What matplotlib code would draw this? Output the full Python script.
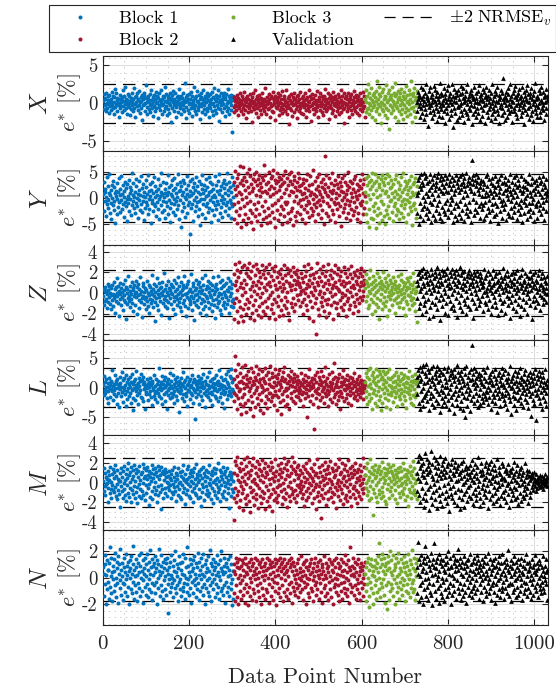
import numpy as np
import matplotlib
matplotlib.use('Agg')
import matplotlib.pyplot as plt
from matplotlib.lines import Line2D
from matplotlib.ticker import FixedLocator, MultipleLocator

plt.rcParams['font.family'] = 'cmr10'
plt.rcParams['mathtext.fontset'] = 'cm'
plt.rcParams['axes.unicode_minus'] = False
plt.rcParams['lines.scale_dashes'] = False

# ---------------- data (errors in tenths of a percent) ----------------
block_names = ['Block 1', 'Block 2', 'Block 3', 'Validation']
block_x0 = [1, 303, 608, 728]
block_x1 = [302, 607, 727, 1030]

panel_names = ['X', 'Y', 'Z', 'L', 'M', 'N']
panel_ylim = [6.3, 9.0, 4.6, 8.0, 4.8, 3.6]
panel_yticks = [[-5, 0, 5], [-5, 0, 5], [-4, -2, 0, 2, 4], [-5, 0, 5], [-4, -2, 0, 2, 4], [-2, 0, 2]]
panel_nrmse2 = [2.6, 4.6, 2.2, 3.3, 2.5, 1.75]

X_b1 = [3,-8,12,5,-2,7,-11,14,0,-6,9,-1,4,-13,11,2,-4,6,-9,1,
15,-3,-7,10,-15,8,2,-5,19,-1,13,-10,4,7,-3,0,-18,6,11,-2,
-6,5,1,-12,8,17,-4,3,-9,10,-1,22,-7,2,6,-14,4,-2,12,-5,
0,9,-16,3,7,-8,14,-3,1,-11,5,20,-6,8,-1,-19,10,2,-4,13,
-9,4,6,-2,16,-13,1,8,-7,3,-22,11,5,-3,9,-1,14,-10,0,7,
24,-5,2,-15,6,10,-8,1,-3,12,-12,4,18,-6,-1,8,-17,3,11,-4,
5,-10,15,0,-7,9,2,-20,7,-2,13,-5,4,-9,1,17,-14,6,-3,10,
-1,-11,8,3,-6,21,-4,12,-16,2,5,-8,9,0,-13,14,-2,7,-25,4,
11,-7,1,16,-3,6,-10,2,13,-5,-18,8,3,-1,10,-12,5,19,-6,0,
-4,9,-15,7,2,-8,14,-2,4,-11,27,1,-5,8,-20,11,3,-9,6,-1,
12,-13,0,5,-7,15,-3,10,-17,4,1,-6,22,-10,7,-2,9,-14,3,16,
-5,2,-9,11,-1,6,-21,8,13,-4,0,-12,5,18,-8,3,-2,10,-15,7,
1,-6,14,-10,4,9,-3,-19,12,2,-7,6,-1,15,-11,8,0,-16,20,-4,
5,-9,3,11,-13,7,-2,17,-6,1,-24,10,4,-8,13,-3,6,-12,2,9,
-1,14,-7,5,-17,8,12,-4,0,-10,19,3,-6,9,-14,2,7,-2,-9,11,
4,-38,6,10]
X_b2 = [-5,8,-12,3,-2,6,-9,1,11,-4,-16,7,0,-7,13,-3,4,-11,2,-1,
9,-14,5,-6,15,-2,-9,3,-20,7,1,-4,10,-12,6,-1,-7,12,-3,2,
-10,4,-25,8,0,-5,14,-8,3,-2,17,-13,6,-1,-6,9,-18,2,5,-4,
11,-9,0,7,-15,4,-3,13,-7,1,-11,6,-2,20,-5,3,-14,8,-1,-8,
2,12,-6,5,-19,0,9,-4,-10,7,-2,15,-12,3,-1,6,-22,10,-5,1,
-7,4,13,-3,8,-16,2,-9,11,0,-5,6,-13,16,-2,-8,5,-1,9,-11,
3,-4,18,-7,1,-14,7,-2,10,-28,4,-6,12,0,-9,2,-17,8,-3,5,
-12,14,-1,6,-8,3,-20,9,-4,1,11,-10,5,-2,15,-6,0,-13,7,-3,
2,-15,10,-5,4,-1,13,-9,6,-18,8,-2,3,-7,17,-11,1,-4,9,-24,
5,-3,12,-8,0,7,-14,2,-6,11,-1,-10,4,16,-5,3,-19,8,-2,6,
-9,13,-4,1,-12,9,-1,5,-16,10,-7,3,19,-3,-11,6,0,-8,14,-5,
2,-21,7,-2,11,-6,4,-13,8,1,-9,15,-3,5,-17,0,10,-4,6,-10,
3,-7,12,-1,-15,8,2,-5,17,-12,4,-2,9,-8,1,13,-6,-26,7,0,
-3,10,-11,5,-1,14,-7,2,-18,9,-4,6,-9,12,0,-14,4,-2,16,-6,
8,-10,1,-5,11,3,-13,7,-2,9,-16,4,0,-8,13,-3,6,-11,2,15,
-7,1,-4,10,-19]
X_b3 = [5,-12,18,2,-8,10,25,-6,13,-15,0,7,-3,20,-9,4,-18,11,1,-5,
14,-2,8,-22,16,3,-10,29,-7,6,-1,12,-14,22,-4,9,-27,2,15,-8,
0,19,-11,5,-3,10,-16,7,24,-6,1,-20,13,-9,4,17,-35,8,-2,11,
-13,6,21,-5,3,-9,14,-1,-18,9,27,-4,12,-7,2,-24,16,5,-11,8,
-2,13,-15,4,19,-8,0,10,-21,6,15,-3,7,-12,23,-6,1,-17,11,3,
-9,18,-1,5,-14,12,30,-7,2,-25,9,14,-5,20,-10,4,-19,8,-3,16]
X_b4 = [2,-10,15,6,-4,11,-18,8,0,-7,22,-13,5,-2,9,19,-21,3,13,-8,
-1,26,-15,7,10,-30,4,-5,16,0,-12,21,-3,8,-20,12,1,-9,6,23,
-14,3,17,-6,-1,10,-24,15,5,-11,2,-17,9,27,-4,13,-8,0,-19,11,
4,-2,20,-10,7,-27,12,1,-6,18,-13,6,24,-3,9,-21,2,14,-9,-16,
5,26,-1,10,-32,3,19,-7,8,-13,1,15,-22,11,-4,17,-5,6,-18,12,
-3,23,-10,0,14,-16,7,20,-8,2,-25,9,4,-12,16,-1,25,-14,6,-20,
10,-6,13,3,-9,18,-2,-28,11,5,-15,8,21,-4,1,-11,14,-19,7,2,
-7,16,-13,24,0,-22,9,4,-5,12,-17,6,19,-9,3,-3,15,-26,8,11,
-1,21,-12,5,-18,10,2,-8,17,-4,7,-23,13,0,26,-15,4,-6,9,-11,
16,-2,-20,12,3,-9,22,-14,1,6,-27,11,8,-5,18,-1,-16,14,-7,5,
33,-12,2,10,-22,7,-3,15,-18,4,12,-8,20,-1,-13,6,25,-10,9,-4,
3,-25,14,1,-6,17,-11,8,23,-2,-15,5,11,-20,0,13,-8,19,-3,7,
-17,10,2,-12,22,-5,4,-28,15,-1,9,-9,18,6,-14,3,24,-7,12,-21,
1,14,-4,8,-16,20,-10,5,-1,11,-24,16,3,-8,27,-13,6,-2,10,-18,
7,-5,17,0,-12,13,-19,4,21,-6,2,-9,15,-3,8,-22,11,1,-14,19,
-6,4,10]

Y_b1 = [8,-25,30,12,-5,18,-35,2,40,-12,22,-3,-18,10,45,-28,6,-9,15,-40,
25,0,-14,33,-6,20,-22,9,-48,14,3,-31,28,-1,11,-17,38,-8,5,-26,
17,-4,42,-20,7,-11,24,-36,1,13,-7,30,-15,19,-2,-44,26,4,-10,35,
-24,10,-1,21,-33,16,47,-13,6,-5,29,-19,2,-29,12,37,-9,23,-16,0,
8,-38,32,-3,15,-23,5,41,-12,19,-27,3,-6,26,-42,11,1,-18,34,-8,
20,-14,7,-30,44,-2,13,-21,27,4,-47,16,-9,30,-4,9,-25,39,-11,2,
-16,23,-34,14,6,-7,36,-20,18,-1,-39,25,3,-13,11,48,-26,8,-5,31,
-22,1,17,-37,10,-8,28,-15,5,43,-30,12,-3,21,-18,-45,24,7,-10,34,
4,-27,15,-2,38,-12,19,-33,9,-6,26,-20,1,46,-14,13,-40,30,-4,16,
-55,22,6,-24,35,-9,11,-17,28,2,-36,18,-1,42,-28,8,-13,25,-7,3,
32,-68,14,-19,5,37,-11,20,-43,10,-3,29,-25,16,1,-16,40,-8,23,-35,
12,-5,33,-21,7,-52,26,-2,17,-30,44,-12,9,-1,24,-38,15,3,-15,36,
-9,21,-27,6,39,-18,11,-4,30,-46,13,2,-23,27,-8,18,-33,5,41,-14,
1,-20,25,-6,14,-41,32,-11,8,45,-29,16,-3,22,-17,4,-36,28,-10,19,
-2,35,-24,10,-13,27,-7,48,-32,15,6,-19,30,-4,21,-37,11,-9,40,-15,
2,24]
Y_b2 = [-12,30,-40,18,52,-25,5,38,-48,22,-8,45,-33,12,60,-18,28,-55,8,35,
-2,-42,25,58,-15,40,-30,15,2,-50,33,-10,48,20,-38,10,55,-22,42,-5,
-46,27,13,-28,37,-58,19,46,-12,32,-35,6,50,-20,24,-44,36,-8,16,43,
-30,4,29,-52,21,39,-16,11,-40,34,62,-24,14,-6,44,-36,26,-48,9,31,
-18,50,-32,17,3,-45,38,23,-14,41,-26,7,53,-38,19,-10,35,-55,28,12,
-22,47,-4,32,-42,15,40,-30,22,-16,36,1,-50,26,44,-20,10,-35,30,-7,
52,-12,18,-46,38,-8,24,-28,45,6,-40,33,14,-24,49,-18,27,-52,11,35,
-6,42,-34,20,4,-44,31,16,-26,48,-10,23,38,-3,13,-31,25,-15,8,-39,
28,-1,37,-21,9,-47,19,2,-13,34,-27,45,-5,15,-36,24,-9,6,41,-19,
12,-33,27,-2,53,-25,7,-11,32,-43,18,3,-17,39,-8,22,-30,14,-4,46,
-14,8,30,-38,21,1,-23,36,-6,17,-49,26,11,80,-28,43,-10,5,-34,20,
3,-16,38,-41,13,-2,29,-22,9,47,-31,16,-7,24,-12,35,-45,10,0,27,
-20,42,-9,19,-35,6,31,-15,23,-53,14,-3,38,-26,11,2,-18,44,-11,30,
7,-37,25,-4,16,-29,50,-13,20,-6,33,-42,9,-21,28,1,-32,18,-8,36,
-24,12,41,-17,4,-39,27,-1,15,-28,22,6,-46,34,-10,19,-14,45,-5,26,
-30,9,37,-19,3]
Y_b3 = [12,-30,38,-8,25,-45,5,42,-20,30,-55,18,-2,35,-38,22,48,-15,8,-40,
28,-25,45,-10,15,-57,33,2,-32,40,-18,20,-48,27,6,-28,36,-5,44,-42,
16,-12,31,-35,24,10,-50,38,-22,13,46,-30,3,29,-15,41,-38,19,-6,34,
-3,21,-27,9,-44,26,1,-16,37,-9,14,-33,43,-20,7,-1,30,-24,17,-39,
4,25,-13,39,-28,11,-6,47,-36,18,-2,-19,33,-11,22,-46,8,28,-4,15,
-31,35,-7,20,-17,2,42,-25,12,-52,26,5,-14,31,-9,38,-21,10,-37,23]
Y_b4 = [5,-28,35,12,-50,40,-10,22,-35,45,18,-20,30,2,-42,25,48,-15,38,-5,
10,-30,42,-18,28,3,-38,33,15,-25,46,-8,20,-45,36,8,-12,27,-33,44,
-2,16,-40,31,23,-22,39,-14,6,47,-28,19,-6,34,-37,13,41,-17,26,-44,
9,37,-24,21,-10,43,-31,14,29,-4,38,-20,11,-36,24,46,-12,33,-27,1,
18,-3,40,-46,25,7,-19,35,-34,15,44,-9,28,-41,20,36,-15,12,-30,42,
-6,26,-38,17,45,-22,31,1,-43,22,38,-11,14,-29,47,-18,24,6,-35,33,
-8,40,19,-24,29,-45,13,37,72,27,-2,43,-32,10,34,-20,46,-7,23,30,
-26,15,39,-16,8,-37,28,21,-10,35,4,-21,32,-13,18,-40,27,3,-7,41,
11,-33,22,45,-18,6,-27,36,-4,16,-44,29,9,-12,38,-23,2,25,-35,14,
42,-9,20,-30,7,33,-16,24,-48,12,1,37,-25,19,-5,44,-14,28,-38,10,
-3,31,-21,15,40,-11,26,-42,5,18,-28,35,-1,22,-34,13,46,-19,8,-6,
30,-36,17,2,-15,39,-26,11,27,-8,43,-39,20,4,-22,34,-12,25,-31,16,
-4,41,-17,9,-45,23,14,-7,36,-29,21,0,-13,32,-40,18,6,-24,28,-10,
45,-20,12,-34,26,3,-9,38,-27,15,-2,30,-43,19,7,-16,35,-11,24,-37,
13,-5,40,-22,29,-14,8,33,-30,17,1,-19,42,-8,26,-41,10,21,-3,36,
-25,14,5]

Z_b1 = [-3,4,-12,2,-8,6,-6,1,-15,-1,9,-9,3,-4,7,-11,0,-16,5,-2,
8,-7,-1,-13,11,-2,-5,4,-19,6,-8,14,-3,0,-10,7,-22,2,-6,10,
-1,-12,5,-4,1,-17,9,-7,3,-2,13,-9,-25,6,0,-11,4,-5,16,-3,
-8,2,-14,7,-1,-6,11,-10,3,-18,5,-3,8,0,-12,12,-4,1,-20,6,
-2,9,-7,-15,4,-1,15,-9,2,-5,-23,7,-3,10,-11,1,-6,5,-16,3,
-4,12,-8,0,-13,8,-2,-19,6,-6,2,-10,17,-1,-7,4,-14,9,-3,-27,
1,-9,7,-5,14,-12,3,-1,-17,10,-4,5,-8,0,-21,6,-2,11,-10,2,
-6,19,-3,-13,4,-7,8,1,-15,-2,12,-9,5,-24,3,-5,9,-11,0,7,
-1,-16,6,-4,13,-8,2,-20,10,-3,-6,4,-12,15,-1,-9,7,-14,1,-5,
11,-18,3,-2,8,-10,5,-7,16,-13,-1,6,-22,9,-4,0,-15,12,-6,2,
-8,4,-11,18,-3,1,-17,7,-5,10,-9,-26,3,-2,13,-12,5,-7,-1,9,
-14,2,-4,11,-19,6,0,-10,14,-6,3,-16,8,-1,-8,17,-13,4,-3,-21,
7,-5,12,-9,1,-15,5,-2,10,-11,-4,8,-18,3,-7,15,-1,-12,6,-24,
2,-6,9,-14,4,-3,16,-10,0,-8,11,-17,5,-1,-20,13,-5,7,-12,1,
-9,8,-2,-15,10,-4,3,-11,14,-7,2,-19,6,-3,12,-13,0,5,-8,9,
-6,-14]
Z_b2 = [-10,18,-25,8,28,-5,12,-18,22,3,-28,15,-8,30,-14,6,20,-22,10,-2,
25,-16,5,-27,13,27,-11,1,19,-20,9,24,-6,-15,16,29,-9,4,-24,14,
-3,21,-19,7,11,-12,26,-26,2,17,-7,28,-17,8,-1,23,-21,12,5,-13,
20,-4,15,-23,10,27,-10,0,18,-18,6,22,-8,-20,14,3,25,-14,9,-5,
19,-24,11,28,-2,7,-16,16,-11,24,1,-19,13,-6,21,-25,8,26,-9,4,
15,4,-13,20,-3,11,-22,18,6,-17,23,-7,2,14,-21,9,27,-12,5,-4,
17,-15,12,24,-8,1,-19,19,10,-26,7,22,-10,3,16,-14,8,25,-5,13,
-18,20,4,-11,9,18,-2,12,22,-7,15,10,8,-1,6,-13,19,2,-9,14,
3,-20,11,26,-6,16,0,-12,21,5,-17,9,28,-3,13,-24,7,17,-8,1,
24,-14,10,-2,18,-27,6,14,-10,3,-40,20,-5,11,29,-16,8,-1,15,-21,
2,23,-9,12,-4,19,-13,7,26,-18,0,16,-7,10,-23,21,4,-11,13,28,
-6,9,-19,17,1,-12,22,5,-3,14,-25,8,20,-9,11,-1,27,-15,6,18,
-10,4,24,-20,13,2,-7,16,-14,9,21,-4,0,12,-17,25,7,-11,19,-2,
10,-22,15,3,-8,23,-5,11,-16,18,1,-12,26,6,-3,14,-19,8,20,-9,
5,17,-13,12,-1,22,-6,9,-18,15,3,-10,19,7,-4,24,11,-7,16,2,
8,-3,13,21,10]
Z_b3 = [5,-8,12,18,-3,10,-15,7,2,-12,14,0,22,-6,9,-20,4,11,-9,16,
-2,6,-18,13,1,-11,8,19,-5,3,-14,10,-25,15,-7,6,-1,12,-16,4,
9,-10,20,-4,7,-13,2,14,-8,11,-22,5,17,-3,8,-17,1,13,-6,3,
10,-2,6,-12,15,0,-7,9,4,-19,12,-5,7,1,-10,16,-3,5,-14,8,
2,-9,13,-1,18,-6,4,-15,11,0,-4,7,-21,10,3,-8,14,-11,6,-2,
12,-16,5,9,-3,15,-7,1,-12,8,19,-5,4,-10,11,0,-18,6,2,-28]
Z_b4 = [12,-5,18,8,-15,20,2,14,-10,22,5,-20,16,10,-3,24,-12,7,19,-8,
15,1,-18,11,21,-6,9,-24,17,4,13,-14,23,0,10,-9,18,6,-22,14,
3,20,-11,8,16,-4,25,-16,12,2,-7,19,7,-26,15,11,-2,22,-13,9,
17,-6,4,21,-19,13,0,18,-10,8,24,-3,14,-21,10,5,20,-8,16,-15,
6,23,-1,12,-12,19,3,-17,15,9,-5,22,7,-23,18,1,13,-9,11,25,
-14,6,17,-2,20,-18,10,4,14,-7,21,-11,8,2,-20,16,12,-4,19,-13,
5,22,9,-16,15,0,18,-6,11,-24,14,7,20,-10,3,17,-1,12,-15,21,
8,-5,16,4,-12,13,19,-8,10,15,6,-3,11,-18,7,23,1,-9,14,2,
-11,17,5,-2,21,-16,9,12,-7,3,18,-20,6,14,0,-13,22,8,-4,10,
16,-9,2,19,-14,11,4,-21,13,7,-1,20,-6,9,15,-17,5,12,-10,24,
1,-8,14,6,-19,17,3,10,-3,21,-12,8,16,-5,2,-24,13,18,-9,7,
11,-2,20,-15,4,9,14,-7,19,0,-18,12,6,22,-11,3,15,-4,10,-22,
17,5,-13,8,23,-6,1,13,-16,11,4,19,-9,7,-1,16,-20,10,2,14,
-5,21,8,-12,15,3,-25,12,6,18,-8,9,-3,20,-14,5,13,-7,11,1,
17,-10,4,22,-2,8,-17,14,9,-4,19,-11,6,3,-6,15,0,12,-9,10,
5,-1,16]

L_b1 = [5,-12,20,-3,10,-8,14,2,-18,1,-6,8,-25,16,-1,4,-15,9,-2,12,
-6,30,-20,3,-10,7,-4,22,0,-14,11,-28,6,15,-9,-1,4,-32,19,-2,
8,-14,2,26,-7,13,-24,1,-3,17,-11,5,-30,21,-5,9,-19,14,-1,6,
-13,2,-8,18,-26,10,-3,23,-17,7,-38,12,-1,15,-21,4,-6,29,-12,0,
8,-27,16,-9,3,-4,11,24,-15,-18,13,6,-23,19,-2,9,-35,1,-10,5,
-7,14,-1,-20,7,2,-11,10,-5,17,-16,4,-29,8,12,-3,0,-13,22,-8,
3,-19,15,-6,6,-24,11,-2,-9,33,-14,5,1,-17,9,-4,20,-28,7,-1,
-11,13,2,-22,18,-7,4,-36,10,-3,15,-12,6,-1,25,-18,3,-8,11,-15,
0,21,-10,7,-5,-26,14,2,-13,9,-2,18,-20,5,-6,12,-40,8,1,-9,
16,-4,-17,6,27,-11,3,-23,10,-1,13,-8,-14,4,19,-30,7,-3,11,-6,
2,-19,14,-9,5,22,-12,0,-25,9,-4,15,-7,-53,6,11,-16,3,-2,20,
-10,8,-27,13,1,-6,17,-14,4,-21,10,-1,24,-8,2,-33,12,-5,7,-12,
18,-3,-16,5,-9,26,0,-20,11,-7,3,14,-11,-29,8,2,-4,16,-13,6,
-1,21,-18,9,-6,4,-23,12,-2,30,-15,7,-9,1,19,-26,5,-3,13,-10,
3,-34,15,-7,24,-1,10,-19,6,28,-12,2,-5,20,-8,17,-14,32,-2,9,
-6,14]
L_b2 = [-8,15,-22,30,53,-12,5,-35,20,2,-18,40,-5,10,-28,25,-2,-45,12,35,
-15,8,-30,18,0,-10,38,-25,6,22,-40,3,14,-20,28,-6,9,-36,16,-1,
33,-14,4,-24,26,11,-48,7,-9,19,-32,36,-3,13,-17,1,24,-27,10,31,
-11,-38,15,5,-21,29,-7,2,-42,17,-4,12,-26,34,8,-13,21,-34,-2,27,
-19,6,-8,14,37,-8,3,-23,18,-15,25,1,-12,10,-29,20,-6,32,-12,4,
-38,16,9,-16,23,-3,30,-24,7,13,-44,2,19,-10,26,-20,11,-5,35,-31,
15,0,-4,-14,8,-27,21,-1,12,-36,18,5,-9,28,-18,3,14,-22,9,24,
-6,17,-25,1,11,-13,20,-4,7,-16,13,2,-8,-3,10,-20,6,25,-11,4,
-7,15,-30,9,1,-18,22,-2,12,-9,-50,5,19,-14,8,-4,31,-23,3,11,
-1,16,-12,7,-27,2,-70,14,-6,21,-17,10,-3,26,-8,0,-33,18,-10,6,
13,-21,4,29,-5,-15,9,-2,20,-26,1,12,-9,35,-13,7,-4,17,-31,3,
-11,23,-6,10,-19,5,-1,27,-24,8,14,-3,-16,42,2,-10,19,-28,6,-7,
11,-20,16,1,-13,24,-5,-35,9,3,-8,18,-15,7,30,-2,-22,12,-4,15,
-17,5,21,-10,-1,13,-25,6,2,-12,19,-6,8,-29,16,0,-9,11,-18,4,
25,-14,3,-5,10,-21,14,-2,7,-11,20,-3,-16,9,1,-8,13,-4,6,-19,
2,-7,12,-1,5]
L_b3 = [10,-15,25,-5,18,-28,3,30,-10,14,-22,7,33,-18,0,22,-35,12,-8,27,
-3,16,-25,8,31,-12,4,-30,20,-6,11,-20,28,1,-14,24,-38,15,-2,19,
-26,6,29,-9,13,-17,2,23,-33,9,-4,26,-21,17,-11,5,32,-36,14,-7,
3,-12,18,-1,-24,9,21,-6,12,-16,1,27,-9,7,-30,15,-3,20,-13,4,
-19,11,-2,25,-8,14,-27,6,17,-5,-14,22,2,-21,10,-34,19,-7,8,-1,
16,-10,28,-4,5,-18,12,-25,3,20,-12,9,-29,13,-2,24,-15,6,-8,11]
L_b4 = [18,-10,30,5,-25,22,-35,12,35,-5,15,-20,28,0,-30,38,-15,8,25,-12,
20,-8,40,10,-22,32,-3,14,-38,26,3,-17,34,-9,19,-28,11,36,-14,6,
-33,23,-1,29,-20,16,-6,37,-26,9,21,-11,31,-40,13,-4,27,-18,4,-30,
24,-7,33,-24,17,2,-13,10,-31,28,2,-21,35,-8,15,-36,22,-2,30,-16,
7,-27,25,-10,18,-42,12,32,-5,20,-19,3,38,-29,14,-12,26,-3,9,-34,
21,1,-23,29,-9,16,-37,11,33,-15,5,-50,24,-6,36,-18,8,-30,19,2,
-11,27,-39,13,-4,31,-20,15,72,23,6,-14,34,-26,10,-1,17,-8,28,-21,
4,-33,20,-12,25,-2,14,-27,9,22,-17,6,31,-9,-24,16,3,-13,26,-5,
11,-19,35,-7,1,-28,18,10,-15,24,-3,-35,13,7,-22,29,-10,5,-16,20,
-4,32,-25,8,15,-11,-40,21,2,-18,27,-6,12,-30,19,4,-9,34,-14,6,
23,-20,1,-12,30,-27,14,-3,9,-36,25,-8,17,-16,5,37,-23,11,-1,-44,
16,2,-13,22,-29,8,-5,28,-18,12,-38,3,20,-7,26,-21,10,-2,33,-15,
6,-26,18,-9,14,1,-32,24,-4,11,-19,30,-11,7,-24,15,-1,21,-34,9,
-6,27,-14,3,-47,19,12,-8,25,-20,4,-28,17,-3,31,-12,8,-55,22,-10,
14,-2,29,-17,5,-25,20,-7,11,-35,26,1,-15,18,-4,9,-22,32,-9,6,
-30,13,2]

M_b1 = [2,-8,15,-3,10,-12,6,-1,4,0,-5,12,-20,8,3,-10,16,-6,1,-15,
9,-2,14,-7,5,-9,11,-4,18,-13,7,-1,-17,13,4,-7,2,-11,2,-25,
10,-3,15,-8,6,-16,12,0,-6,17,-12,3,9,-19,14,-2,5,-10,20,-14,
8,-5,11,1,-20,16,-7,4,13,-11,7,-3,18,-16,2,10,-9,14,-4,-21,
6,12,-1,-13,17,-6,3,9,-15,11,-8,19,0,-12,5,15,-18,7,-2,13,
-10,4,16,-5,8,-23,12,-1,6,-14,10,2,-8,18,-17,5,14,-4,9,-11,
1,15,-7,11,-20,7,-3,17,-12,4,13,-9,8,-27,16,-2,10,-6,12,-15,
3,9,-10,14,-5,6,11,-13,1,7,-4,0,-7,12,-2,5,-16,9,3,-9,
13,-1,-11,6,-4,16,-8,2,10,-19,4,-3,8,-12,15,0,-6,11,-14,1,
7,-17,12,-2,5,-9,18,-5,3,-22,9,1,-11,14,-7,4,-1,17,-13,6,
-3,10,-15,2,13,-8,7,-20,11,0,-5,15,-10,4,-2,19,-12,6,9,-16,
1,12,-6,3,-14,8,-24,14,-1,5,-9,16,-4,10,-18,2,7,-11,13,-3,
-7,6,11,-13,0,18,-10,4,-2,9,-17,12,-5,8,1,-21,15,-8,3,-12,
10,-1,14,-15,5,-4,20,-9,2,-6,13,-19,7,-2,11,-11,4,16,-14,1,
-8,9,-3,12,-17,6,0,15,-10,3,-5,8,-26,11,-1,7,-13,4,10,-6,
2,-9]
M_b2 = [-15,-38,10,22,-5,18,-20,8,-12,26,-8,3,-25,15,1,-18,12,-3,20,-10,
6,-28,14,-6,24,2,-15,9,-22,17,-1,26,-12,5,11,-19,21,-4,8,-30,
13,-9,2,18,-14,25,-7,4,-23,16,0,-11,10,-17,22,-2,7,-26,14,-5,
19,-13,3,-21,12,8,-8,23,-16,1,-10,15,-27,6,20,-3,11,-19,9,-7,
17,-14,4,-24,13,-1,21,-11,5,-29,16,-6,10,2,-18,24,-9,7,-15,12,
-4,-20,18,3,-12,9,-2,14,-2,20,-8,6,-22,11,0,-14,25,-6,15,-17,
4,19,-10,8,-25,13,-3,22,-13,7,1,-19,17,-5,10,-11,26,-8,14,-16,
3,21,-7,12,-20,9,-2,16,-12,5,18,-4,8,-1,-9,13,-6,2,-15,10,
-3,17,-11,6,-24,14,1,-8,20,-18,4,11,-5,-14,9,0,23,-10,7,-2,
15,-21,5,12,-7,2,-16,19,-4,8,-27,10,-1,24,-13,6,-9,16,-3,-19,
11,1,-12,-36,7,18,-6,3,-15,13,-2,21,-10,5,-23,9,0,14,-8,17,
-17,4,10,-5,22,-14,2,-9,15,-1,-20,12,6,-11,19,-4,8,-26,13,0,
-7,16,-13,3,24,-3,9,-18,11,-6,1,20,-10,5,-22,14,-2,7,-15,18,
2,-12,12,-4,-19,8,23,-8,4,-14,15,-1,10,-24,6,17,-5,-11,13,-3,
9,-16,20,-7,1,11,-21,5,14,-9,3,-13,18,-2,7,-17,12,0,-6,25,
-10,4,16,-5,8]
M_b3 = [8,-5,15,0,-12,20,3,-8,12,-18,6,24,-3,10,-15,2,16,-33,9,-6,
13,-10,5,18,-2,7,-14,11,-20,14,1,-7,17,-11,4,9,-16,12,-4,21,
-9,6,-13,15,0,-19,10,3,-22,8,14,-6,19,-1,11,-15,5,16,-8,12,
2,-4,10,-12,7,18,-1,4,-17,13,-7,1,9,-21,6,15,-3,11,-10,3,
16,-14,5,-2,12,-8,0,20,-11,7,-5,14,-18,2,9,-1,13,-13,6,-24,
4,11,-6,17,-9,1,8,-15,12,-3,22,-10,5,-7,15,0,-12,9,3,-17]
M_b4 = [10,-8,22,5,28,-12,15,2,-20,18,25,-5,8,-15,20,12,-25,6,30,-10,
14,1,-18,24,9,-6,17,-28,11,21,-3,13,32,-14,7,-22,19,4,-9,26,
-1,16,-17,10,23,-7,3,-26,15,20,-12,8,-4,27,-19,12,5,-10,18,-24,
9,22,-2,14,-16,6,25,-8,11,-21,17,0,-13,20,7,-29,13,-5,19,-11,
4,24,-15,10,-3,16,-20,8,21,-9,2,12,-23,15,-6,18,3,-14,9,-27,
11,20,-7,5,-17,13,-1,22,-11,7,-25,14,1,17,-8,10,-19,4,15,-4,
9,-13,6,18,-2,11,-16,3,23,-10,14,-22,7,1,-6,19,-12,10,-18,5,
16,-3,26,-9,2,-15,12,-24,8,20,-5,13,-1,-20,9,4,-11,17,-7,21,
-14,6,11,-2,-26,15,3,-8,19,-17,10,0,22,-12,5,14,-21,7,-4,18,
2,-10,13,-19,8,24,-6,1,-15,16,-3,11,-23,9,4,-13,20,-1,6,-9,
17,-16,5,12,-7,3,-20,14,-2,10,-11,19,0,-25,8,13,-5,-18,11,2,
-8,15,6,-12,21,-4,9,-17,3,12,-6,18,-14,1,7,-22,10,-2,14,-10,
4,-19,16,-1,8,-13,11,-7,2,-16,20,-3,6,-11,13,-5,9,-21,0,7,
12,-9,3,-14,8,5,-4,10,-1,6,-7,2,11,-3,4,-8,1,9,-5,3,
0,6,-2,5,-4,2,8,-1,4,-3,7,1,-6,3,0,5,-2,9,-1,4,
2,-3,6]

N_b1 = [8,-14,3,17,-5,10,-20,2,13,-9,6,-3,6,-16,11,23,-7,1,-12,15,
4,-18,9,-1,14,-10,5,19,-6,0,-15,12,7,-4,16,-19,3,10,-8,22,
-2,6,-13,11,1,-17,-4,8,15,-5,4,-11,18,-1,9,-14,2,12,-7,5,
-20,13,0,7,-9,16,3,-12,10,-3,24,-16,6,1,-6,14,-11,8,2,-18,
11,-4,17,-8,4,-14,9,0,19,-10,5,-2,13,-19,7,3,-7,15,-13,1,
10,-5,18,-15,6,-1,12,-9,3,21,-11,8,-4,14,-17,2,9,-6,11,-12,
4,16,-3,7,-20,13,0,10,-8,5,22,-14,2,17,-6,9,-10,4,12,-16,
7,-2,14,-9,1,11,-13,6,15,-5,-27,3,-1,8,-11,12,2,-7,17,-4,
0,9,-15,5,-2,13,-8,20,-12,4,1,-6,10,-18,7,16,-3,-9,11,-1,
6,-14,3,12,-7,18,-10,2,-4,15,-16,8,0,-11,23,-5,9,-1,-13,4,
14,-8,1,-19,10,5,-3,13,-12,7,-2,16,-6,3,-15,11,0,8,-9,19,
-4,2,-17,12,6,-10,15,-1,-7,9,3,-13,18,-5,1,-20,10,4,-8,13,
-2,7,-11,16,0,-14,5,21,-6,11,-18,3,9,-3,14,-9,-1,6,-15,8,
12,-5,2,-12,17,-7,4,10,-16,1,13,-2,-10,7,20,-8,5,-13,3,15,
-6,9,-19,4,11,-3,8,-11,1,14,-7,6,-14,2,16,-4,-9,10,-1,-21,
5,-16]
N_b2 = [5,-12,10,-18,3,15,-6,8,-15,12,0,-20,7,14,-4,2,-10,9,-16,13,
-2,6,-13,11,1,-8,15,-19,4,-5,10,-11,3,-21,8,12,-7,0,-14,6,
14,-3,9,-17,2,11,-9,5,-12,15,-1,-18,7,3,-6,13,-10,0,10,-15,
4,-4,12,-20,8,1,-8,14,-13,5,9,-2,-16,11,2,-9,6,15,-11,0,
7,-19,13,-5,3,10,-14,8,-1,12,-7,4,-17,9,-3,14,-10,1,11,-21,
6,-4,13,-12,2,8,-8,15,-15,5,0,10,-6,12,-18,7,3,-11,14,-2,
9,-14,4,11,-9,6,1,-16,13,-5,8,-12,10,-3,15,-19,5,12,-7,2,
-10,9,-1,-13,6,-4,11,-8,3,-15,14,0,-6,4,-11,7,-2,16,-9,1,
10,-17,5,-3,12,-7,2,-20,8,13,-5,0,-12,6,9,-1,-15,11,3,-8,
14,-10,4,-2,7,-18,11,1,-6,15,-13,5,-3,9,-9,2,12,-16,0,6,
-4,13,-11,3,8,-19,10,-1,5,-8,16,-14,2,-6,11,0,-12,7,4,-17,
9,-3,14,-9,1,12,-15,6,-2,10,-20,4,-7,13,-5,8,0,-11,15,-1,
3,-13,11,-6,7,-18,2,9,-10,14,-4,5,-16,12,1,-8,6,-3,17,-12,
0,10,-9,4,-14,13,-2,8,-19,6,-5,23,2,-11,9,-7,3,15,-13,1,
7,-6,12,-16,4,-1,10,-9,14,-4,2,-12,8,-17,5,11,-3,-8,6,0,
-14,9,3,-5,12]
N_b3 = [3,-10,8,-18,12,-5,15,0,-14,6,-22,10,-3,14,-8,2,9,-12,5,-20,
9,1,-6,13,-16,7,-2,11,-11,4,16,-9,0,26,-15,8,-4,14,18,-7,
10,-1,5,-13,15,3,-19,9,-6,11,-24,6,16,-3,12,-17,7,20,-10,4,
-5,13,-8,2,17,-14,6,-1,10,-20,8,15,-4,1,-11,12,-7,19,3,-16,
7,-3,14,-9,5,0,-13,11,-6,16,-2,8,-18,4,12,-10,2,-5,9,-12,
18,-1,6,-15,13,3,-8,10,-4,21,-11,7,-2,15,-9,5,-17,11,1,14]
N_b4 = [8,-12,27,3,-18,14,-6,10,1,-15,17,-3,5,-20,12,7,-9,15,-1,24,
-14,4,11,-7,16,0,-17,9,-4,13,-11,6,19,-13,2,10,-21,14,-5,8,
26,-10,3,12,-16,7,-2,15,-8,1,18,-19,5,11,-6,14,-12,0,9,-15,
13,-3,6,-18,10,4,-9,16,-1,12,-14,7,20,-7,3,-11,15,-4,9,-20,
8,2,-13,17,-6,11,0,-10,14,5,-16,9,-2,13,-8,22,6,-12,10,-4,
15,-17,3,8,-9,12,1,-14,16,-5,7,-11,11,4,-19,13,-1,9,-7,14,
-13,2,18,-3,6,-10,10,0,-15,12,5,-8,15,-6,3,-12,11,7,-2,17,
-9,4,13,-16,8,1,-5,10,-11,6,14,-2,9,-18,3,12,-7,0,16,-10,
5,-14,11,2,-4,19,-12,7,-1,14,-8,3,-17,10,6,-6,13,-3,-11,8,
1,-19,15,-5,9,4,-13,12,-2,7,-9,16,0,-15,11,3,-7,18,-10,5,
-3,12,-16,8,2,-8,14,-1,10,-12,6,21,-6,4,-14,9,-4,13,1,-18,
7,-5,11,-11,3,16,-9,5,-2,12,-15,8,0,-7,14,-13,6,2,-10,10,
-1,15,-6,4,-17,9,3,-12,13,-3,7,-9,18,-4,1,-14,11,5,-8,6,
12,-2,-11,9,2,-16,14,-5,8,-1,-13,10,4,-7,17,-10,3,6,-4,11,
-15,7,0,13,-6,-9,10,2,-12,8,-3,5,16,-8,1,-11,9,-2,14,-5,
4,-17,6]

panel_data = [
    [X_b1, X_b2, X_b3, X_b4],
    [Y_b1, Y_b2, Y_b3, Y_b4],
    [Z_b1, Z_b2, Z_b3, Z_b4],
    [L_b1, L_b2, L_b3, L_b4],
    [M_b1, M_b2, M_b3, M_b4],
    [N_b1, N_b2, N_b3, N_b4],
]

# ---------------- styling ----------------
colors = ['#0072BD', '#A2142F', '#77AC30', '#000000']
markers = ['o', 'o', 'o', '^']
msizes = [2.9, 2.9, 2.9, 3.4]
axcol = '#262626'
dash_pat = (9, 5)

W, H = 556, 691
fig = plt.figure(figsize=(W / 100, H / 100), dpi=100)

left_px, right_px = 102.8, 547.7
top_px, bot_px = 55.7, 625.0
n = len(panel_names)
ph = (bot_px - top_px) / n
axes = []
for i in range(n):
    y_top = top_px + i * ph
    ax = fig.add_axes([left_px / W, 1 - (y_top + ph) / H, (right_px - left_px) / W, ph / H])
    axes.append(ax)

for i, ax in enumerate(axes):
    lim = panel_ylim[i]
    ax.set_xlim(0, 1031)
    ax.set_ylim(-lim, lim)
    ax.xaxis.set_major_locator(FixedLocator([0, 200, 400, 600, 800, 1000]))
    ax.xaxis.set_minor_locator(MultipleLocator(50))
    ax.yaxis.set_major_locator(FixedLocator(panel_yticks[i]))
    step = panel_yticks[i][1] - panel_yticks[i][0]
    ax.yaxis.set_minor_locator(MultipleLocator(1 if step == 5 else 0.5))
    ax.grid(True, which='major', color='#dcdcdc', lw=0.7, zorder=0)
    ax.grid(True, which='minor', color='#c4c4c4', lw=0.6, ls=(0, (1, 3)), zorder=0)
    ax.set_axisbelow(True)
    ax.tick_params(which='major', direction='in', length=4.5, width=0.8, color=axcol,
                   top=True, right=True, labelsize=13.5, labelcolor=axcol, pad=4)
    ax.tick_params(which='minor', length=0, top=True, right=True)
    ax.tick_params(axis='x', pad=7)
    for s in ax.spines.values():
        s.set_color(axcol)
        s.set_linewidth(0.8)
    if i < n - 1:
        ax.tick_params(labelbottom=False)
    ax.set_yticklabels([str(t) for t in panel_yticks[i]])

    ax.axhline(panel_nrmse2[i], color='k', lw=0.9, dashes=dash_pat, zorder=2)
    ax.axhline(-panel_nrmse2[i], color='k', lw=0.9, dashes=dash_pat, zorder=2)

    for b in range(4):
        vals = np.array(panel_data[i][b], dtype=float) / 10.0
        xs = np.linspace(block_x0[b], block_x1[b], len(vals))
        ax.plot(xs, vals, ls='none', marker=markers[b], ms=msizes[b], mew=0,
                color=colors[b], zorder=3)

    ax.text(-0.138, 0.5, '$' + panel_names[i] + '$', transform=ax.transAxes,
            rotation=90, ha='center', va='center', fontsize=18, color=axcol)
    ax.text(-0.075, 0.5, r'$e^{*}$ [%]', transform=ax.transAxes,
            rotation=90, ha='center', va='center', fontsize=16, color=axcol)

axes[-1].set_xticklabels(['0', '200', '400', '600', '800', '1000'])
axes[-1].tick_params(axis='x', labelsize=15)
fig.text((left_px + right_px) / 2 / W, 1 - 677 / H, 'Data Point Number',
         ha='center', va='center', fontsize=16, color=axcol)

handles = [Line2D([], [], ls='none', marker=markers[b], ms=msizes[b], mew=0, color=colors[b])
           for b in range(4)]
handles.append(Line2D([], [], color='k', lw=0.9, dashes=(8, 5)))
labels = block_names + [r'$\pm2\ \mathrm{NRMSE}_v$']
leg = fig.legend(handles, labels, loc='center', bbox_to_anchor=(302.5 / W, 1 - 28.5 / H),
                 ncol=3, fontsize=13, frameon=True, fancybox=False, framealpha=1,
                 edgecolor=axcol, handlelength=2.9, handletextpad=0.7,
                 columnspacing=1.6, labelspacing=0.35, borderpad=0.25)
leg.get_frame().set_linewidth(0.8)

fig.savefig('out.png', dpi=100)
